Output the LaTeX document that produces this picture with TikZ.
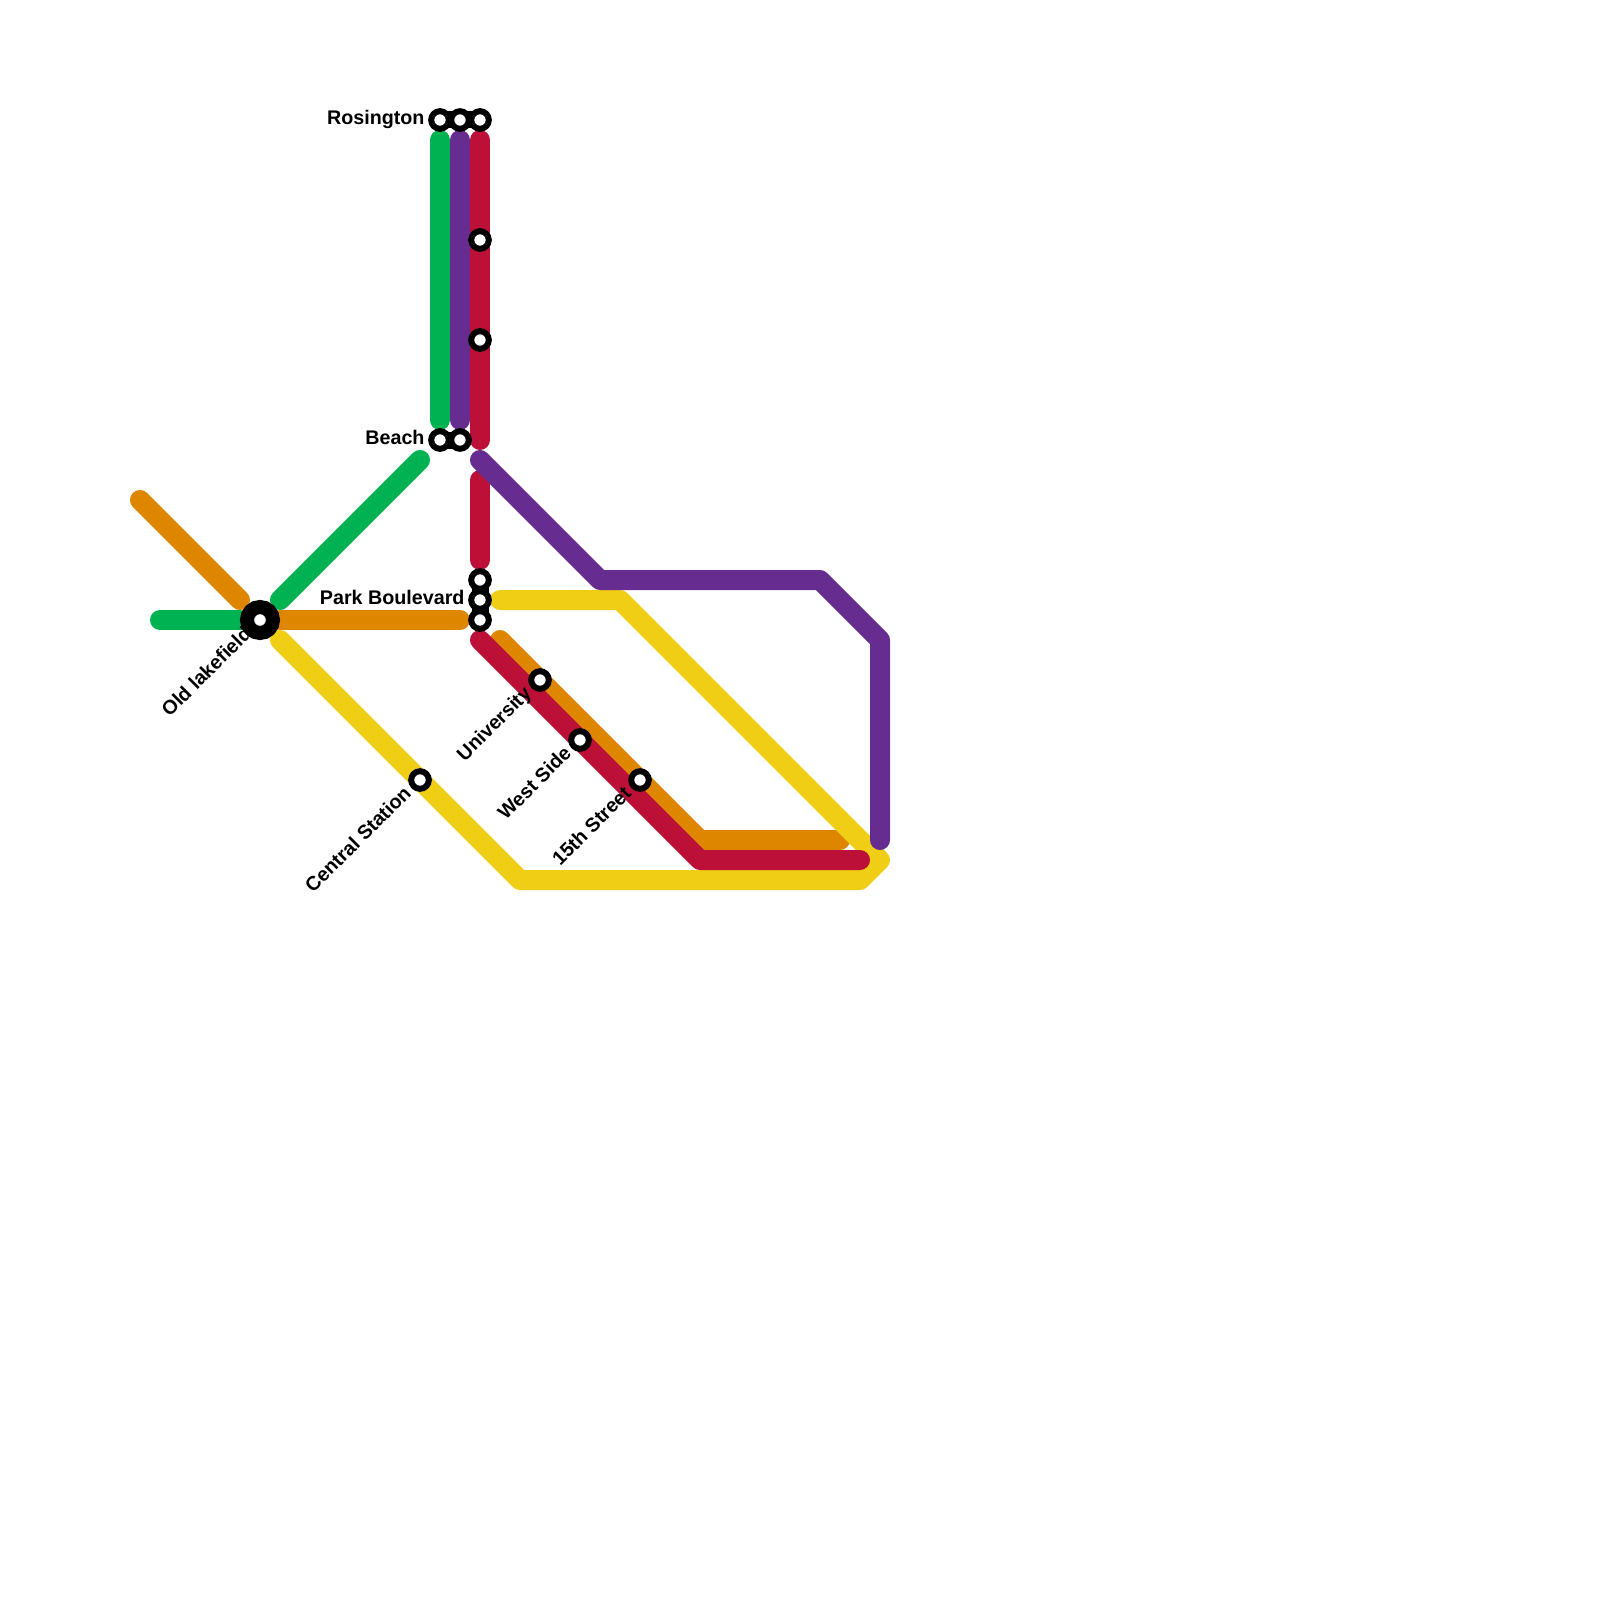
\documentclass[tikz,border=0pt]{standalone}
\usepackage{fontspec}
\setmainfont{Liberation Sans}
\definecolor{lgreen}{HTML}{00B251}
\definecolor{lorange}{HTML}{DF8600}
\definecolor{lred}{HTML}{BD1038}
\definecolor{lpurple}{HTML}{662C90}
\definecolor{lyellow}{HTML}{F0CE15}
\tikzset{
  metro/.style={line width=20pt,line cap=round,line join=round},
  link/.style={line width=17pt,black,line cap=round},
  stn/.style={circle,draw=black,line width=6pt,fill=white,minimum size=17.6pt,inner sep=0pt},
  bigstn/.style={circle,draw=black,line width=14pt,fill=white,minimum size=26pt,inner sep=0pt},
  lbl/.style={font=\bfseries\fontsize{19.7pt}{22pt}\selectfont,text=black,inner sep=0pt,anchor=base east},
  dlbl/.style={lbl,rotate=45}
}
\begin{document}
\begin{tikzpicture}[x=1pt,y=-1pt]
\useasboundingbox (0,0) rectangle (1600,1600);
% named route points
\foreach \n/\x/\y in {
 ya/280/640,yb/520/880,yc/860/880,yd/880/860,ye/620/600,yf/500/600,
 oa/140/500,ob/240/600,oc/280/620,od/460/620,oe/500/640,of/700/840,og/840/840,
 ga/160/620,gb/240/620,gc/280/600,gd/420/460,ge/440/140,gf/440/420,
 ra/480/140,rb/480/440,rc/480/480,rd/480/560,re/480/640,rf/700/860,rg/860/860,
 pa/460/140,pb/460/420,pc/480/460,pd/600/580,pe/820/580,pf/880/640,pg/880/840}
 {\coordinate (\n) at (\x,\y);}
\draw[metro,lgreen] (ga)--(gb);
\draw[metro,lgreen] (gc)--(gd);
\draw[metro,lgreen] (ge)--(gf);
\draw[metro,lorange] (oa)--(ob);
\draw[metro,lorange] (oc)--(od);
\draw[metro,lorange] (oe)--(of)--(og);
\draw[metro,lyellow] (ya)--(yb)--(yc)--(yd)--(ye)--(yf);
\draw[metro,lred] (ra)--(rb);
\draw[metro,lred] (rc)--(rd);
\draw[metro,lred] (re)--(rf)--(rg);
\draw[metro,lpurple] (pa)--(pb);
\draw[metro,lpurple] (pc)--(pd)--(pe)--(pf)--(pg);
% labels
\node[lbl] (lros) at (424.7,124.3) {Rosington};
\node[lbl] (lbea) at (424.7,444) {Beach};
\node[lbl] (lpark) at (464.7,604.3) {Park Boulevard};
\node[dlbl] (lold) at (252.7,634.8) {Old lakefield};
\node[dlbl] (lcen) at (412.4,794.5) {Central Station};
\node[dlbl] (luni) at (532.4,694.5) {University};
\node[dlbl] (lwest) at (572.4,754.5) {West Side};
\node[dlbl] (lfif) at (632.4,794.5) {15th Street};
% station links
\coordinate (r1) at (440,120); \coordinate (r3) at (480,120);
\coordinate (b1) at (440,440); \coordinate (b2) at (460,440);
\coordinate (k1) at (480,580); \coordinate (k3) at (480,620);
\draw[link] (r1)--(r3);
\draw[link] (b1)--(b2);
\draw[link] (k1)--(k3);
% stations
\node[stn] (s1) at (r1) {};
\node[stn] (s2) at (460,120) {};
\node[stn] (s3) at (r3) {};
\node[stn] (s4) at (480,240) {};
\node[stn] (s5) at (480,340) {};
\node[stn] (s6) at (b1) {};
\node[stn] (s7) at (b2) {};
\node[stn] (s8) at (k1) {};
\node[stn] (s9) at (480,600) {};
\node[stn] (s10) at (k3) {};
\node[stn] (s11) at (540,680) {};
\node[stn] (s12) at (580,740) {};
\node[stn] (s13) at (640,780) {};
\node[stn] (s14) at (420,780) {};
\node[bigstn] (s15) at (260,620) {};
\end{tikzpicture}
\end{document}
